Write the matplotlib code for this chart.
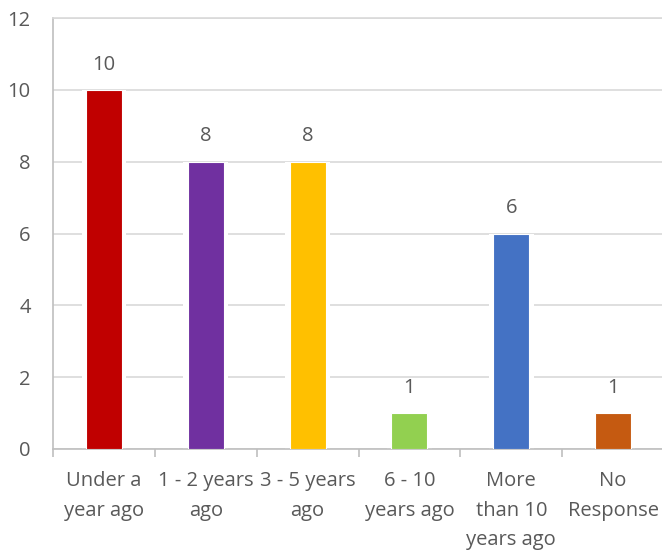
import matplotlib
matplotlib.use("Agg")
import matplotlib.pyplot as plt
import numpy as np

categories = ["Under a\nyear ago", "1 - 2 years\nago", "3 - 5 years\nago",
              "6 - 10\nyears ago", "More\nthan 10\nyears ago", "No\nResponse"]
values = [10, 8, 8, 1, 6, 1]
colors = ["#C00000", "#7030A0", "#FFC000", "#92D050", "#4472C4", "#C55A11"]

plt.rcParams['font.family'] = ['Open Sans', 'DejaVu Sans']
txt = "#595959"
fs = 14.5

fig = plt.figure(figsize=(6.62, 5.53), dpi=100)
ax = fig.add_axes([53/662, 1-449/553, 611/662, (449-18)/553])

x = np.arange(len(categories))
# white halo behind bars (gaps in gridlines)
ax.bar(x, values, width=0.44, color="white", zorder=2)
ax.bar(x, values, width=0.355, color=colors, edgecolor="white", linewidth=0.8, zorder=3)

for xi, v in zip(x, values):
    ax.annotate(str(v), (xi, v), xytext=(0, 11), textcoords="offset points",
                ha="center", va="bottom", fontsize=fs, color=txt)

ax.set_xlim(-0.5, len(categories) - 0.5)
ax.set_ylim(0, 12)
ax.set_yticks(np.arange(0, 13, 2))
ax.yaxis.grid(True, color="#d9d9d9", linewidth=1.2, zorder=0)
ax.set_axisbelow(True)

ax.set_xticks(np.arange(-0.5, len(categories), 1.0))
ax.set_xticklabels([])
ax.set_xticks(x, minor=True)
ax.set_xticklabels(categories, minor=True, fontsize=fs, color=txt, linespacing=1.62)
ax.tick_params(axis="x", which="major", length=6, color="#bfbfbf", width=1.2)
ax.tick_params(axis="x", which="minor", length=0, pad=16)
ax.tick_params(axis="y", length=0, labelsize=fs, labelcolor=txt, pad=16)

for s in ["top", "right"]:
    ax.spines[s].set_visible(False)
for s in ["left", "bottom"]:
    ax.spines[s].set_color("#bfbfbf")
    ax.spines[s].set_linewidth(1.2)
ax.spines["top"].set_visible(True)
ax.spines["top"].set_color("#d9d9d9")
ax.spines["top"].set_linewidth(1.2)

fig.savefig("out.png", dpi=100)
